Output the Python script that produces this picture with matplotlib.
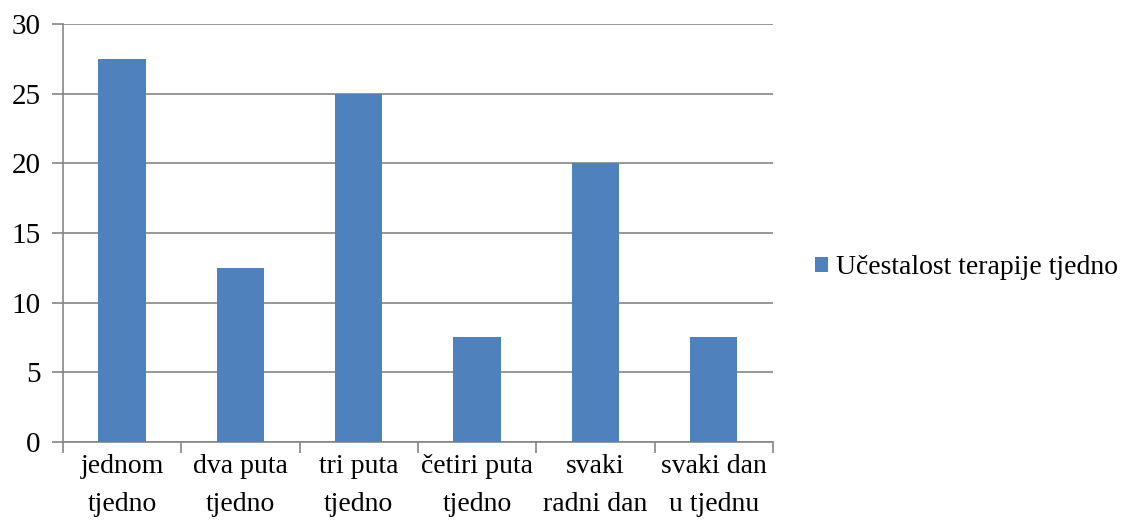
import matplotlib
matplotlib.use("Agg")
from matplotlib import pyplot as plt
import numpy as np

# data
categories = ["jednom\ntjedno", "dva puta\ntjedno", "tri puta\ntjedno",
              "četiri puta\ntjedno", "svaki\nradni dan", "svaki dan\nu tjednu"]
values = [27.5, 12.5, 25, 7.5, 20, 7.5]
series_name = "Učestalost terapije tjedno"
y_ticks = [0, 5, 10, 15, 20, 25, 30]

plt.rcParams['font.family'] = ['Liberation Serif', 'DejaVu Serif']
plt.rcParams['font.size'] = 20

grey = "#868686"
fig = plt.figure(figsize=(11.22, 5.22), dpi=100)
ax = fig.add_axes([0.0561, 0.1533, 0.6328, 0.8007])

x = np.arange(len(categories))
ax.bar(x, values, width=0.4, color="#4F81BD", label=series_name, zorder=3)

ax.set_xlim(-0.5, len(categories) - 0.5)
ax.set_ylim(0, 30)
ax.set_yticks(y_ticks)
ax.set_xticks(x)
ax.set_xticklabels(categories, linespacing=1.65)
ax.set_xticks(np.arange(len(categories) + 1) - 0.5, minor=True)

ax.grid(axis="y", color=grey, linewidth=1.2, zorder=0)
for s in ["top", "right"]:
    ax.spines[s].set_visible(False)
for s in ["left", "bottom"]:
    ax.spines[s].set_color(grey)
    ax.spines[s].set_linewidth(1.2)

ax.tick_params(axis="y", length=8, color=grey, width=1.2, pad=8, labelsize=21)
ax.tick_params(axis="x", which="major", length=0, pad=9)
ax.tick_params(axis="x", which="minor", length=8, color=grey, width=1.2)

fig.legend(loc="center left", bbox_to_anchor=(0.7265, 0.487), frameon=False,
           handlelength=0.45, handleheight=0.45, handletextpad=0.3,
           borderaxespad=0, borderpad=0)

fig.savefig("out.png", dpi=100)
